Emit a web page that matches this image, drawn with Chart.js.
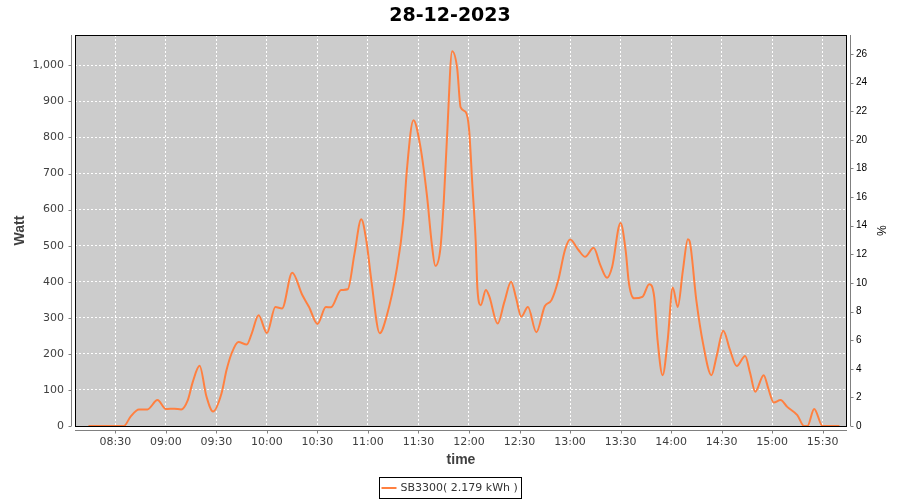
<!DOCTYPE html>
<html>
<head>
<meta charset="utf-8">
<script src="https://cdn.jsdelivr.net/npm/chart.js@4/dist/chart.umd.min.js"></script>
<style>
html,body{margin:0;padding:0;background:#fff;}
canvas{display:block;}
</style>
</head>
<body>
<canvas id="c" width="900" height="500"></canvas>
<script>
// ---- data ----
const chartTitle = "28-12-2023";
const seriesLabel = "SB3300( 2.179 kWh )";
const xAxisTitle = "time";
const leftAxisTitle = "Watt";
const rightAxisTitle = "%";

const times = [
  "08:14","08:20","08:26","08:31","08:35","08:39","08:44","08:49","08:55","09:00",
  "09:05","09:09","09:13","09:16","09:20","09:24","09:28","09:33","09:36","09:39",
  "09:43","09:48","09:51","09:55","10:00","10:05","10:09","10:15","10:21","10:25",
  "10:30","10:35","10:38","10:44","10:48","10:52","10:56","10:59","11:02","11:07",
  "11:11","11:17","11:21","11:23","11:27","11:31","11:35","11:38","11:40","11:43",
  "11:45","11:47","11:50","11:53","11:55","11:58","12:00","12:02","12:04","12:05",
  "12:07","12:10","12:12","12:17","12:21","12:25","12:28","12:31","12:35","12:40",
  "12:45","12:49","12:53","12:57","13:00","13:05","13:09","13:14","13:18","13:22",
  "13:25","13:30","13:33","13:35","13:38","13:43","13:47","13:50","13:52","13:55",
  "13:58","14:01","14:04","14:07","14:10","14:11","14:15","14:19","14:24","14:27",
  "14:31","14:35","14:39","14:44","14:47","14:50","14:55","14:58","15:01","15:05",
  "15:09","15:15","15:19","15:21","15:25","15:30","15:35","15:40"
];
const watts = [
  0,0,0,0,0,26,46,46,72,47,
  48,46,72,123,167,83,40,90,155,201,
  233,226,257,307,258,330,326,425,363,330,
  283,330,329,377,379,478,573,515,404,257,
  303,432,571,704,848,778,640,501,444,492,
  621,806,1039,991,884,871,825,668,510,381,
  335,377,360,284,344,400,354,303,330,260,
  332,349,404,488,517,488,469,494,446,411,
  441,563,488,395,354,358,393,358,238,141,
  238,384,330,430,518,513,349,229,141,192,
  264,211,166,194,146,95,141,100,65,72,
  53,30,0,0,47,0,0,0
];

const xTickLabels = ["08:30","09:00","09:30","10:00","10:30","11:00","11:30","12:00","12:30","13:00","13:30","14:00","14:30","15:00","15:30"];
const wattTicks = [0,100,200,300,400,500,600,700,800,900,1000];
const pctTicks = [0,2,4,6,8,10,12,14,16,18,20,22,24,26];

// ---- helpers ----
const toMin = s => { const p = s.split(':'); return (+p[0]) * 60 + (+p[1]); };
const fmtTime = v => {
  const h = Math.floor(v / 60), m = Math.round(v - h * 60);
  return String(h).padStart(2, '0') + ':' + String(m).padStart(2, '0');
};

const bgPlugin = {
  id: 'bg',
  beforeDraw(chart) {
    const {ctx, chartArea: a} = chart;
    ctx.save();
    ctx.fillStyle = '#cccccc';
    ctx.fillRect(a.left, a.top, a.right - a.left, a.bottom - a.top);
    ctx.restore();
  }
};

const framePlugin = {
  id: 'frame',
  afterDraw(chart) {
    const {ctx, chartArea: a, scales} = chart;
    ctx.save();
    // plot outline
    ctx.strokeStyle = '#000';
    ctx.lineWidth = 1;
    ctx.strokeRect(a.left + 0.5, a.top + 0.5, a.right - a.left - 1, a.bottom - a.top);
    // axis lines (offset) and tick marks
    ctx.strokeStyle = '#808080';
    ctx.beginPath();
    const lx = a.left - 3.5;
    ctx.moveTo(lx, a.top); ctx.lineTo(lx, a.bottom);
    wattTicks.forEach(v => {
      const y = Math.round(scales.y.getPixelForValue(v)) + 0.5;
      ctx.moveTo(lx - 3, y); ctx.lineTo(lx, y);
    });
    const by = a.bottom + 4.5;
    ctx.moveTo(a.left, by); ctx.lineTo(a.right, by);
    xTickLabels.forEach(l => {
      const x = Math.round(scales.x.getPixelForValue(toMin(l))) + 0.5;
      ctx.moveTo(x, by); ctx.lineTo(x, by + 3);
    });
    const rx = a.right + 3.5;
    ctx.moveTo(rx, a.top); ctx.lineTo(rx, a.bottom);
    pctTicks.forEach(v => {
      const y = Math.round(scales.y1.getPixelForValue(v)) + 0.5;
      ctx.moveTo(rx, y); ctx.lineTo(rx + 3, y);
    });
    ctx.stroke();

    // legend
    ctx.font = '11px "DejaVu Sans"';
    const tw = ctx.measureText(seriesLabel).width;
    const w = Math.round(tw + 25);
    const bx = Math.round(450 - w / 2) + 0.5;
    const bt = 477.5, bh = 21;
    ctx.strokeStyle = '#000';
    ctx.strokeRect(bx, bt, w, bh);
    ctx.strokeStyle = '#ff8040';
    ctx.lineWidth = 2;
    ctx.beginPath();
    ctx.moveTo(bx + 2, 488); ctx.lineTo(bx + 17, 488);
    ctx.stroke();
    ctx.fillStyle = '#333';
    ctx.textBaseline = 'middle';
    ctx.textAlign = 'left';
    ctx.fillText(seriesLabel, bx + 21, 488.5);
    ctx.restore();
  }
};

const gridCommon = {color: '#ffffff', lineWidth: 1, drawTicks: false, borderDash: [2, 2], dash: [2, 2]};

new Chart(document.getElementById('c').getContext('2d'), {
  type: 'line',
  data: {
    datasets: [{
      label: seriesLabel,
      data: times.map((t, i) => ({x: toMin(t), y: watts[i]})),
      borderColor: '#ff8040',
      backgroundColor: '#ff8040',
      borderWidth: 2,
      pointRadius: 0,
      fill: false,
      cubicInterpolationMode: 'monotone',
      yAxisID: 'y'
    }]
  },
  options: {
    responsive: false,
    animation: false,
    devicePixelRatio: 1,
    layout: {padding: 0},
    plugins: {
      legend: {display: false},
      tooltip: {enabled: false},
      title: {
        display: true,
        text: chartTitle,
        color: '#000',
        font: {family: 'DejaVu Sans', size: 19, weight: 'bold'},
        padding: {top: 5, bottom: 7.2}
      }
    },
    scales: {
      x: {
        type: 'linear',
        min: 486,
        max: 944.5,
        afterBuildTicks: s => { s.ticks = xTickLabels.map(l => ({value: toMin(l)})); },
        afterFit: s => { s.height = 74; },
        ticks: {
          callback: v => fmtTime(v),
          font: {family: 'DejaVu Sans', size: 11},
          color: '#404040',
          padding: 10,
          maxRotation: 0,
          autoSkip: false
        },
        grid: gridCommon,
        border: {display: false, dash: [2, 2]},
        title: {
          display: true, text: xAxisTitle, color: '#404040',
          font: {family: 'Liberation Sans', size: 14, weight: 'bold'},
          padding: {top: 0, bottom: 31.6}
        }
      },
      y: {
        position: 'left',
        min: 0,
        max: 1084,
        afterBuildTicks: s => { s.ticks = wattTicks.map(v => ({value: v})); },
        afterFit: s => { s.width = 75; },
        ticks: {
          callback: v => v.toLocaleString('en-US'),
          font: {family: 'DejaVu Sans', size: 11},
          color: '#404040',
          padding: 11
        },
        grid: gridCommon,
        border: {display: false, dash: [2, 2]},
        title: {
          display: true, text: leftAxisTitle, color: '#404040',
          font: {family: 'Liberation Sans', size: 14, weight: 'bold'},
          padding: {top: 11.6, bottom: 0}
        }
      },
      y1: {
        position: 'right',
        min: 0,
        max: 27.33,
        afterBuildTicks: s => { s.ticks = pctTicks.map(v => ({value: v})); },
        afterFit: s => { s.width = 53; },
        ticks: {
          font: {family: 'Liberation Sans', size: 10},
          color: '#000',
          padding: 9
        },
        grid: {drawOnChartArea: false, drawTicks: false},
        border: {display: false},
        title: {
          display: true, text: rightAxisTitle, color: '#000',
          font: {family: 'Liberation Sans', size: 12},
          padding: {top: 12.8, bottom: 0}
        }
      }
    }
  },
  plugins: [bgPlugin, framePlugin]
});
</script>
</body>
</html>
